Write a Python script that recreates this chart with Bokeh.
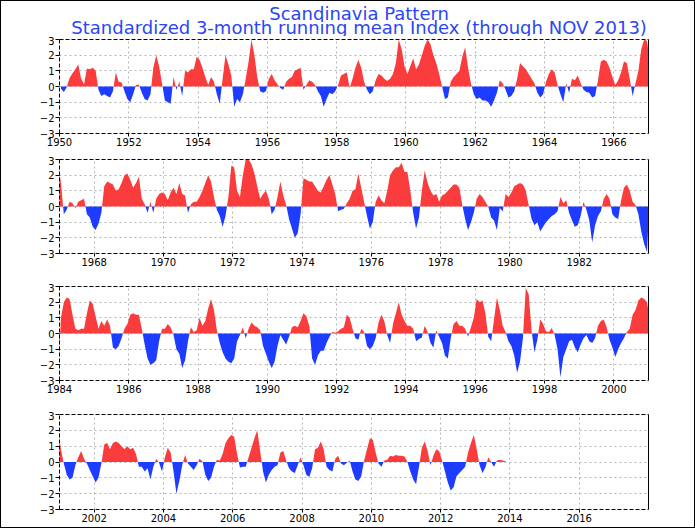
import numpy as np
from bokeh.plotting import figure
from bokeh.models import Range1d, FixedTicker, LinearAxis
from bokeh.layouts import column
from bokeh.embed import file_html
from bokeh.resources import INLINE
from bokeh.core.properties import value

title_line1 = "Scandinavia Pattern"
title_line2 = "Standardized 3-month running mean Index (through NOV 2013)"

# Monthly standardized 3-month running mean index, one list per panel (Jan..Dec rows)
sp_1950_1966 = [
    -0.15, -0.35, -0.05, 0.55, 0.85, 1.1, 1.4, 0.5, 0.15, 1.15, 1.1, 1.2,
    1.0, -0.2, -0.6, -0.5, -0.6, -0.7, -0.3, 0.9, 0.3, 0.25, -0.3, -0.8,
    -1.0, -0.5, 0.1, 0.12, -0.4, -0.8, -0.9, -0.5, 1.2, 2.0, 1.3, 0.2,
    -0.9, -1.0, -1.1, 0.6, -0.2, 0.3, -0.6, 1.0, 0.9, 1.1, 1.1, 1.9,
    1.7, 1.2, 0.6, 0.1, 0.6, 0.3, -0.5, -1.1, 0.5, 2.0, 1.4, 0.7,
    -1.3, -0.8, -1.0, -0.5, 0.5, 1.6, 3.0, 2.0, 0.6, -0.3, -0.4, -0.3,
    0.5, 0.8, 0.4, 0.15, -0.1, -0.2, 0.3, 0.5, 0.6, 1.0, 1.1, 1.2,
    -0.2, 0.1, 0.4, 0.3, 0.1, -0.3, -0.6, -1.3, -0.8, -0.4, -0.5, -0.3,
    0.1, 0.7, 0.8, 0.9, -0.1, 0.5, 1.2, 1.7, 1.2, 0.3, -0.2, -0.5,
    -0.3, 0.4, 0.8, 0.7, 0.5, 0.35, 0.5, 0.8, 1.5, 3.0, 2.4, 1.3,
    0.8, 1.3, 1.8, 1.1, 1.4, 2.0, 2.6, 3.0, 2.7, 2.0, 1.5, 0.8,
    0.0, -0.8, -0.7, 0.3, 0.6, 0.8, 1.0, 1.9, 2.5, 1.2, 0.2, -0.5,
    -0.8, -0.7, -0.9, -0.9, -1.0, -1.3, -0.9, -0.4, 0.4, 0.2, -0.2, -0.7,
    -0.6, -0.3, 0.5, 1.5, 1.3, 1.1, 0.8, 0.5, 0.2, -0.4, -0.7, -0.5,
    0.3, 0.8, 1.1, 0.9, 0.1, -0.5, -1.0, 0.2, -0.4, 0.5, 0.4, 0.7,
    0.2, -0.2, -0.35, -0.4, -0.7, -0.6, 0.4, 1.6, 1.7, 1.6, 1.2, 0.6,
    0.1, 0.4, 0.9, 1.6, 1.5, 0.5, -0.6, 0.2, 1.0, 2.4, 3.0, 2.9,
]
sp_1967_1983 = [
    1.5, -0.5, -0.2, 0.3, 0.2, -0.1, 0.3, 0.4, 0.5, -0.5, -0.7, -1.3,
    -1.5, -1.1, -0.4, 1.3, 1.6, 1.5, 1.4, 1.0, 1.1, 1.5, 2.0, 2.1,
    1.7, 1.2, 1.5, 1.9, 0.5, 0.15, -0.4, 0.3, -0.4, 0.5, 0.8, 0.9,
    0.8, 0.4, 0.9, 1.2, 0.8, 1.5, 0.8, 0.7, -0.4, 0.15, 0.3, 0.3,
    0.6, 1.0, 1.5, 2.0, 1.6, 0.6, -0.2, -0.6, -1.3, -0.6, 0.6, 2.6,
    2.5, 1.0, 0.6, 2.0, 3.0, 3.0, 2.7, 2.1, 1.3, 0.5, 0.8, 1.0,
    0.5, -0.5, -0.2, 0.6, 1.6, 0.7, 0.1, -0.8, -1.4, -2.0, -1.7, -0.5,
    1.8, 1.7, 1.6, 1.6, 1.3, 1.0, 0.9, 1.3, 1.7, 2.0, 1.4, 0.8,
    -0.3, -0.2, -0.15, 0.2, 0.5, 1.0, 1.1, 2.1, 1.2, 0.3, -0.6, -1.4,
    -1.0, 0.3, 0.7, 0.4, 0.2, 1.0, 2.0, 2.3, 2.5, 2.5, 2.8, 2.2,
    2.2, 1.0, -0.4, -1.4, -0.7, 1.0, 2.3, 1.5, 1.0, 0.7, 0.8, 0.3,
    0.7, 0.8, 1.0, 1.2, 1.4, 1.4, 1.2, 0.1, -0.8, -1.5, -1.0, -0.4,
    0.5, 0.8, 0.6, 0.3, 0.0, -0.7, -0.9, -1.5, -0.1, -0.3, 0.8, 0.6,
    0.9, 1.3, 1.4, 1.5, 1.4, 1.0, 0.1, -0.8, -1.2, -1.0, -1.6, -1.3,
    -1.0, -0.8, -0.6, -0.5, -0.3, 0.6, 0.2, 0.4, -0.4, -0.9, -1.3, -1.2,
    -0.6, 0.3, -0.2, -0.9, -2.3, -1.2, -0.6, -0.3, 0.5, 0.8, 0.5, -0.5,
    -0.7, -0.8, 0.4, 1.2, 1.4, 1.0, 0.3, 0.1, -0.5, -1.6, -2.4, -2.9,
]
sp_1984_2000 = [
    1.0, 2.0, 2.3, 2.2, 1.2, 0.3, 0.2, 0.3, 0.3, 1.3, 2.1, 1.9,
    1.1, 0.3, 0.8, 0.5, 0.9, 0.5, -0.9, -1.0, -0.8, -0.3, 0.3, 0.6,
    1.2, 1.3, 1.2, 1.2, 0.3, -0.7, -1.6, -2.0, -1.9, -1.7, -0.5, 0.3,
    0.3, 0.6, 0.4, -0.1, -1.0, -1.3, -2.2, -1.7, -0.5, 0.4, 0.1, 0.2,
    1.0, 0.5, 0.8, 1.6, 2.2, 1.5, 0.2, -0.6, -1.2, -1.6, -1.8, -1.9,
    -1.6, -0.5, -0.1, 0.4, -0.3, 0.3, 0.7, 0.5, 0.4, 0.2, -0.8, -1.3,
    -1.8, -2.2, -1.8, -0.8, -0.1, -0.4, -0.7, -0.2, 0.4, 0.5, 0.4, 0.8,
    1.3, 1.1, 0.5, -1.6, -2.0, -1.4, -1.1, -1.1, -0.6, -0.2, 0.1, 0.05,
    0.15, 0.3, 0.4, 1.2, 1.0, 0.3, -0.3, -0.4, 0.3, 0.1, -0.8, -1.0,
    -0.8, -0.3, 0.7, 1.2, 0.8, -0.1, -0.6, 0.6, 1.3, 2.0, 1.2, 0.8,
    0.5, 0.5, 0.3, -0.5, -0.35, -0.25, 0.5, 0.1, -0.6, -0.9, 0.2, -0.2,
    -0.6, -1.4, -1.6, -0.3, 0.6, 0.8, 0.5, 0.5, 0.3, -0.2, 0.4, 1.0,
    2.2, 2.0, 2.1, 1.3, -0.2, -0.5, 0.9, 2.3, 1.5, 0.5, 0.1, -0.5,
    -0.8, -1.4, -2.5, -1.8, -0.3, 2.9, 2.5, 0.2, -1.2, -0.4, 0.9, 0.6,
    0.15, 0.1, 0.35, -0.1, -1.0, -2.8, -1.5, -1.0, -0.5, -0.4, -0.9, -1.2,
    -0.7, -0.3, -0.1, -0.5, -0.6, -0.3, 0.5, 0.8, 0.9, 0.4, -0.4, -0.9,
    -1.5, -1.0, -0.6, -0.3, 0.1, 0.3, 1.2, 1.5, 2.1, 2.3, 2.2, 2.0,
]
sp_2001_2013 = [
    0.8, -0.1, -0.8, -1.1, -1.0, -0.2, 0.3, 0.7, 0.2, -0.1, -0.5, -0.9,
    -1.3, -1.0, -0.1, 1.1, 1.2, 0.8, 1.2, 1.3, 1.2, 1.0, 0.8, 1.0,
    0.8, 0.9, 0.5, -0.3, -0.3, -0.6, -0.4, -1.1, -0.3, 0.2, -0.05, -0.6,
    0.3, 0.9, 0.6, -0.6, -2.0, -1.2, -0.2, 0.45, -0.1, -0.3, -0.5, -0.2,
    0.2, 0.05, -0.8, -1.2, -1.0, -0.3, 0.15, 0.1, 0.5, 1.2, 1.5, 1.7,
    1.6, 0.5, -0.35, -0.3, -0.3, 0.3, 0.9, 1.5, 2.0, 0.7, -0.6, -1.3,
    -0.8, -0.5, -0.3, -0.2, 0.6, 0.7, 0.1, -0.4, -0.6, -0.7, -0.2, 0.3,
    -0.2, -0.8, -0.95, -0.4, 0.8, 0.9, 1.3, 0.8, -0.3, -0.5, -0.6, 0.2,
    0.4, -0.1, -0.2, -0.05, 0.1, -0.6, -1.1, -1.2, -0.9, 0.1, 0.8, 1.5,
    1.4, 0.6, -0.1, -0.3, 0.1, 0.15, 0.4, 0.35, 0.45, 0.4, 0.4, 0.35,
    0.0, -0.6, -1.1, -1.4, -0.3, 0.9, 1.3, 0.7, -0.2, 0.4, 0.8, 0.7,
    0.1, -0.6, -1.3, -1.8, -1.6, -0.9, -0.7, -0.5, -0.3, 0.6, 1.2, 1.7,
    0.8, -0.2, -0.7, -0.35, 0.3, 0.0, -0.3, 0.1, 0.15, 0.1, 0.05,
]

panel_starts = [1950, 1967, 1984, 2001]
panel_years = 17
first_year = 1950
y_ticks = [-3, -2, -1, 0, 1, 2, 3]
y_grid = [-2, -1, 0, 1, 2]

RED = "#fa3c3c"
BLUE = "#1e3cff"
TITLE_BLUE = "#2a46f5"
GRID = "#b4b4b4"
FONT = "DejaVu Sans"

series = np.array(sp_1950_1966 + sp_1967_1983 + sp_1984_2000 + sp_2001_2013, dtype=float)
t = first_year + (np.arange(len(series)) + 0.5) / 12.0

# insert zero crossings so the red/blue fills meet at the zero line
xs, ys = [t[0]], [series[0]]
for i in range(1, len(series)):
    a, b = series[i - 1], series[i]
    if a * b < 0:
        xs.append(t[i - 1] + (t[i] - t[i - 1]) * a / (a - b))
        ys.append(0.0)
    xs.append(t[i])
    ys.append(b)
xs = np.array(xs)
ys = np.array(ys)
pos = np.maximum(ys, 0.0)
neg = np.minimum(ys, 0.0)

W = 693
LEFT = 58
FRAME_W = 589
RIGHT = W - LEFT - FRAME_W
TITLE_H = 35

# title strip
tfig = figure(width=W, height=TITLE_H, x_range=Range1d(0, W), y_range=Range1d(TITLE_H, 0),
              x_axis_type=None, y_axis_type=None, min_border=0,
              toolbar_location=None, output_backend="svg")
tfig.outline_line_color = None
tfig.grid.visible = False
tfig.text(x=[LEFT + FRAME_W / 2, LEFT + FRAME_W / 2], y=[11.5, 25.5],
          text=[title_line1, title_line2], text_align="center",
          text_baseline="middle", text_font=value(FONT),
          text_font_size="18px", text_color=TITLE_BLUE)

heights = [120, 127, 128, 116]
bottoms = [23, 30, 31, 18]

figs = [tfig]
for start, h, mb in zip(panel_starts, heights, bottoms):
    p = figure(width=W, height=h, x_range=Range1d(start, start + panel_years),
               y_range=Range1d(-3, 3), toolbar_location=None, output_backend="svg",
               min_border_left=LEFT, min_border_right=RIGHT, min_border_top=3,
               min_border_bottom=mb)
    p.outline_line_color = None
    p.background_fill_color = "white"
    p.varea(x=xs, y1=0, y2=pos, fill_color=RED)
    p.varea(x=xs, y1=0, y2=neg, fill_color=BLUE)

    xt = [y for y in range(start, start + panel_years) if y % 2 == 0]
    p.xaxis.ticker = FixedTicker(ticks=xt)
    p.xgrid.ticker = FixedTicker(ticks=xt)
    p.yaxis.ticker = FixedTicker(ticks=y_ticks)
    p.ygrid.ticker = FixedTicker(ticks=y_grid)
    p.yaxis.major_label_overrides = {v: (str(v) if v >= 0 else "\u2212" + str(-v)) for v in y_ticks}
    for g in (p.xgrid, p.ygrid):
        g.grid_line_color = GRID
        g.grid_line_dash = "2 3"
        g.grid_line_width = 1
    for ax in (p.xaxis, p.yaxis):
        ax.axis_line_color = "black"
        ax.axis_line_dash = "4 2"
        ax.major_tick_in = 0
        ax.minor_tick_out = 0
        ax.minor_tick_in = 0
        ax.major_tick_line_color = "black"
        ax.major_label_text_font = FONT
        ax.major_label_text_font_size = "10px"
        ax.major_label_text_color = "black"
    p.xaxis.major_tick_out = 3
    p.xaxis.major_label_standoff = 1
    p.yaxis.major_tick_out = 4
    p.yaxis.major_label_standoff = 1

    top = LinearAxis(ticker=FixedTicker(ticks=[]), axis_line_color="black",
                     axis_line_dash="4 2", major_tick_out=0, major_tick_in=0,
                     minor_tick_out=0, minor_tick_in=0, major_label_standoff=0,
                     major_label_text_font_size="0px")
    p.add_layout(top, "above")
    right = LinearAxis(ticker=FixedTicker(ticks=[]), axis_line_color="black",
                       major_tick_out=0, major_tick_in=0, minor_tick_out=0,
                       minor_tick_in=0, major_label_standoff=0,
                       major_label_text_font_size="0px")
    p.add_layout(right, "right")
    figs.append(p)

layout = column(*figs, spacing=0, styles={"border": "1px solid black"})
open("out.html", "w").write(file_html(layout, INLINE))
